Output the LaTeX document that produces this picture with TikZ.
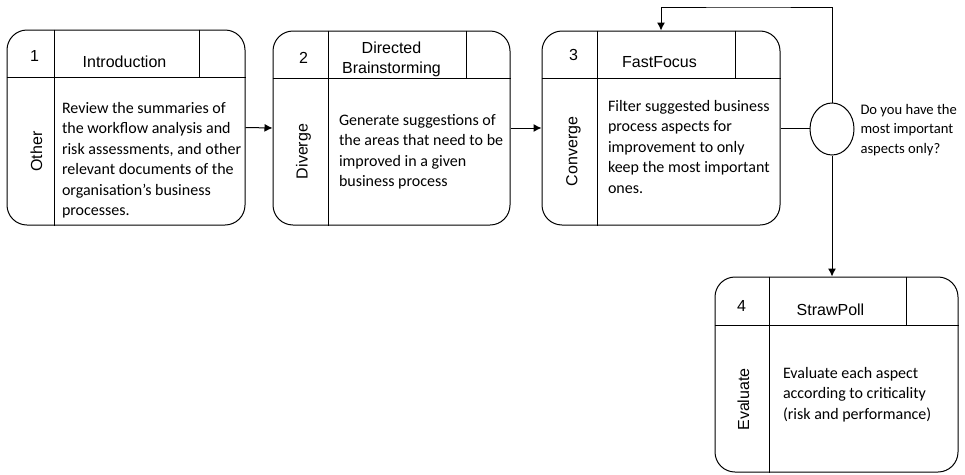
\documentclass[tikz,border=0pt]{standalone}
\usepackage{fontspec}
\newfontfamily\headfont{Liberation Sans}
\newfontfamily\bodyfont{Carlito}
\usetikzlibrary{arrows.meta,shapes.geometric,calc}

\begin{document}
\begin{tikzpicture}[x=1pt,y=-1pt,line width=1pt,
  stage/.style={draw,rounded corners=20pt,inner sep=0pt},
  headtext/.style={font=\headfont\fontsize{16}{20}\selectfont,inner sep=0pt,align=center},
  sidetext/.style={font=\headfont\fontsize{16}{20}\selectfont,inner sep=0pt,rotate=90},
  bodytext/.style={font=\bodyfont\fontsize{16}{20.5}\selectfont,inner sep=0pt,align=left,anchor=north west},
  asktext/.style={font=\bodyfont\fontsize{14.6}{19.5}\selectfont,inner sep=0pt,align=left,anchor=west},
  flow/.style={-{Latex[length=8pt,width=8pt]}}]

\useasboundingbox (0,0) rectangle (965,474);

% stage 1
\node[stage,minimum width=238pt,minimum height=195pt] (b1) at (126,127.5) {};
\draw ($(b1.north west)+(0,48)$) -- ($(b1.north east)+(0,48)$);
\draw ($(b1.north west)+(48,0)$) -- ($(b1.south west)+(48,0)$);
\draw ($(b1.north east)+(-46,0)$) -- ($(b1.north east)+(-46,48)$);
\node[headtext] (n1) at ($(b1.north west)+(28,26)$) {1};
\node[headtext] (t1) at ($(b1.north west)+(118,32)$) {Introduction};
\node[sidetext] (s1) at ($(b1.north west)+(30,122)$) {Other};
\node[bodytext] (d1) at ($(b1.north west)+(55,72)$) {Review the summaries of\\the workflow analysis and\\risk assessments, and other\\relevant documents of the\\organisation’s business\\processes.};

% stage 2
\node[stage,minimum width=237pt,minimum height=194pt] (b2) at (391.5,128) {};
\draw ($(b2.north west)+(0,48)$) -- ($(b2.north east)+(0,48)$);
\draw ($(b2.north west)+(56,0)$) -- ($(b2.south west)+(56,0)$);
\draw ($(b2.north east)+(-44,0)$) -- ($(b2.north east)+(-44,48)$);
\node[headtext] (n2) at ($(b2.north west)+(31,27)$) {2};
\node[headtext] (t2) at ($(b2.north west)+(119,29)$) {Directed\\Brainstorming};
\node[sidetext] (s2) at ($(b2.north west)+(31,121)$) {Diverge};
\node[bodytext] (d2) at ($(b2.north west)+(66,83)$) {Generate suggestions of\\the areas that need to be\\improved in a given\\business process};

% stage 3
\node[stage,minimum width=238pt,minimum height=194pt] (b3) at (661,128) {};
\draw ($(b3.north west)+(0,48)$) -- ($(b3.north east)+(0,48)$);
\draw ($(b3.north west)+(56,0)$) -- ($(b3.south west)+(56,0)$);
\draw ($(b3.north east)+(-45,0)$) -- ($(b3.north east)+(-45,48)$);
\node[headtext] (n3) at ($(b3.north west)+(32,24)$) {3};
\node[headtext] (t3) at ($(b3.north west)+(118,32)$) {FastFocus};
\node[sidetext] (s3) at ($(b3.north west)+(32,121)$) {Converge};
\node[bodytext] (d3) at ($(b3.north west)+(66,69)$) {Filter suggested business\\process aspects for\\improvement to only\\keep the most important\\ones.};

% stage 4
\node[stage,minimum width=243pt,minimum height=195pt] (b4) at (836.5,374.5) {};
\draw ($(b4.north west)+(0,49)$) -- ($(b4.north east)+(0,49)$);
\draw ($(b4.north west)+(55,0)$) -- ($(b4.south west)+(55,0)$);
\draw ($(b4.north east)+(-52,0)$) -- ($(b4.north east)+(-52,49)$);
\node[headtext] (n4) at ($(b4.north west)+(27,29)$) {4};
\node[headtext] (t4) at ($(b4.north west)+(116,33)$) {StrawPoll};
\node[sidetext] (s4) at ($(b4.north west)+(29,123)$) {Evaluate};
\node[bodytext] (d4) at ($(b4.north west)+(68,90)$) {Evaluate each aspect\\according to criticality\\(risk and performance)};

% decision
\node[draw,ellipse,minimum width=44pt,minimum height=52pt,inner sep=0pt] (dec) at (832,129) {};
\node[asktext] (q) at (860,130) {Do you have the\\most important\\aspects only?};
\coordinate (loop) at (750,7);

% connectors
\draw[flow] (b1.east) -- (b2.west);
\draw[flow] (b2.east) -- (b3.west);
\draw (b3.east) -- (b3.east -| dec.west);
\draw[flow] (dec.north) |- (loop) -| (b3.north);
\draw[flow] (dec.south) -- (dec.south |- b4.north);
\end{tikzpicture}
\end{document}
